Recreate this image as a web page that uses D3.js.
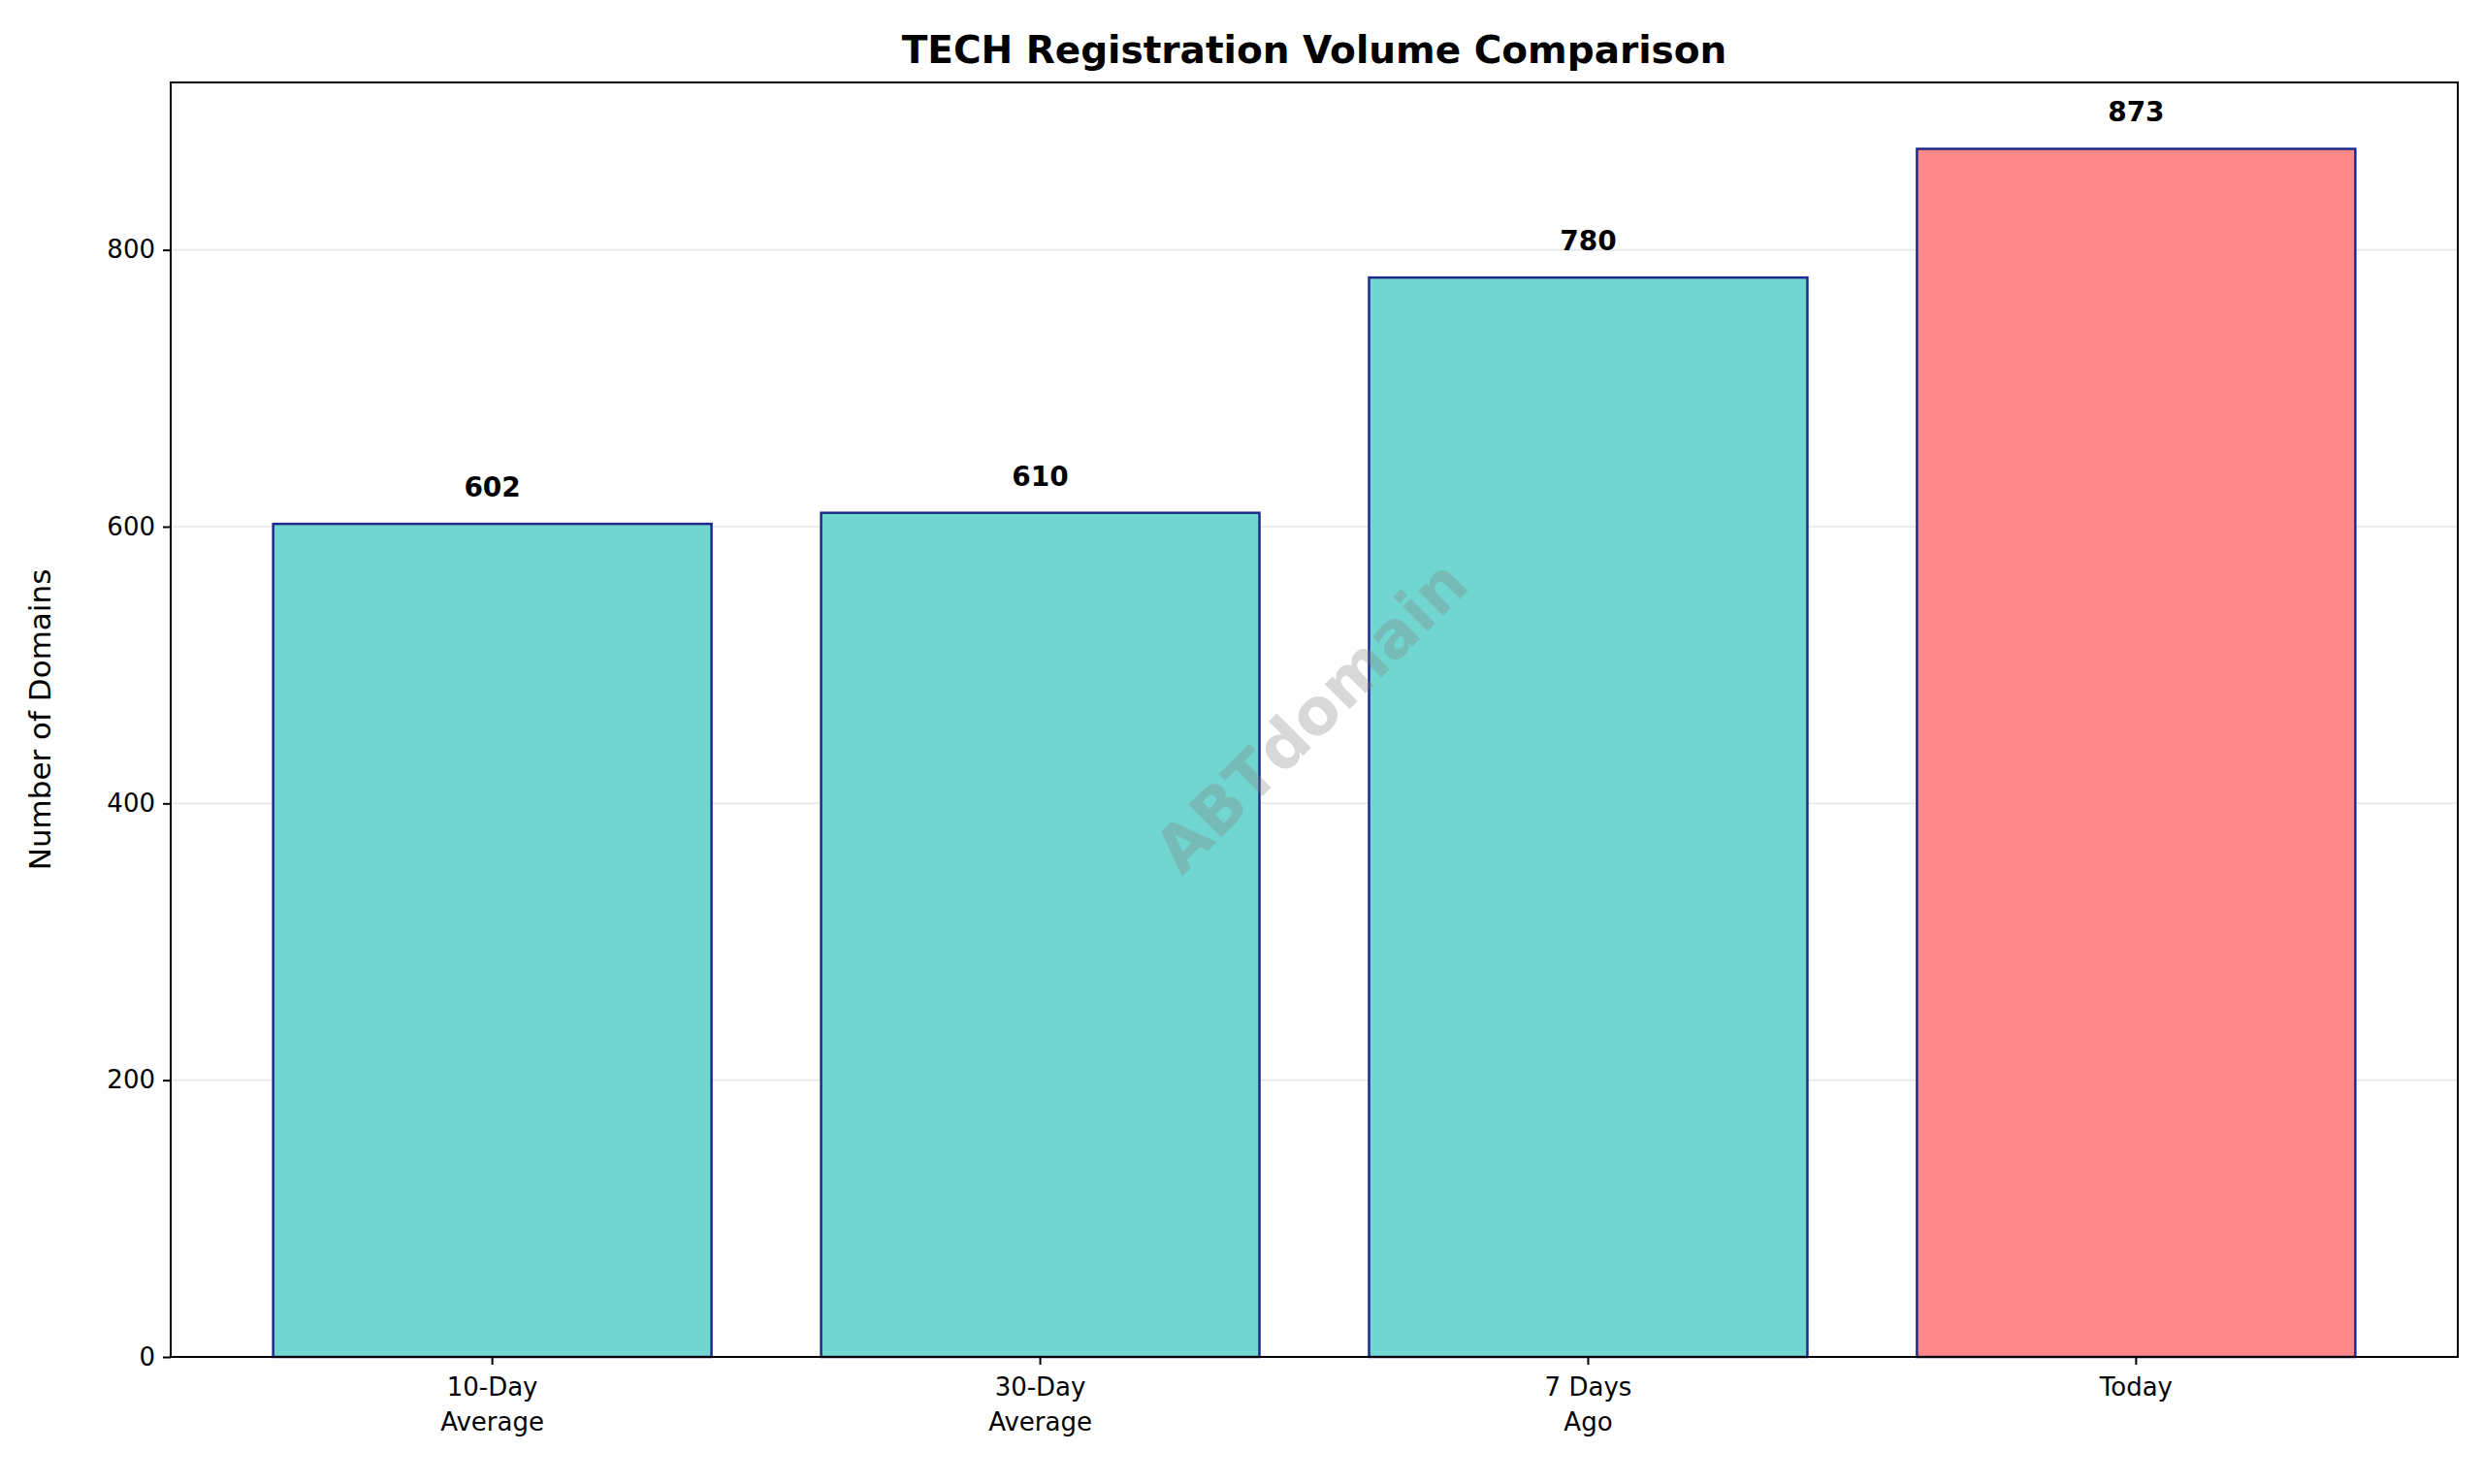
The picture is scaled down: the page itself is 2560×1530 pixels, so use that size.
<!DOCTYPE html>
<html><head><meta charset="utf-8">
<script src="https://cdn.jsdelivr.net/npm/d3@7"></script>
<style>body{margin:0;background:#fff}text{font-family:"DejaVu Sans",sans-serif}</style>
</head><body><svg id="chart" width="2560" height="1530"></svg>
<script>
const categories = ["10-Day\nAverage", "30-Day\nAverage", "7 Days\nAgo", "Today"];
const values = [602, 610, 780, 873];
const barColors = ["#72d6d0", "#72d6d0", "#72d6d0", "#ff8888"];
const yTicks = [0, 200, 400, 600, 800];

const svg = d3.select("#chart");
const m = {left: 176, right: 2534, top: 85, bottom: 1399};

// x in data units like matplotlib
const x = d3.scaleLinear().domain([-0.587, 3.587]).range([m.left, m.right]);
const y = d3.scaleLinear().domain([0, 921]).range([m.bottom, m.top]);
const bw = x(0.8) - x(0);

// grid
svg.append("g").selectAll("line").data(yTicks.slice(1)).join("line")
  .attr("x1", m.left).attr("x2", m.right)
  .attr("y1", d => y(d)).attr("y2", d => y(d))
  .attr("stroke", "#e6e6e6").attr("stroke-width", 1.6);

// bars
svg.append("g").selectAll("rect").data(values).join("rect")
  .attr("x", (d, i) => x(i) - bw / 2).attr("width", bw)
  .attr("y", d => y(d)).attr("height", d => y(0) - y(d))
  .attr("fill", (d, i) => barColors[i])
  .attr("stroke", "#1f2a8a").attr("stroke-width", 2.5);

// value labels
svg.append("g").selectAll("text").data(values).join("text")
  .attr("x", (d, i) => x(i)).attr("y", d => y(d) - 28)
  .attr("text-anchor", "middle").attr("font-size", 28).attr("font-weight", "bold")
  .text(d => d);

// watermark
svg.append("text")
  .attr("transform", `translate(${(m.left + m.right) / 2},${(m.top + m.bottom) / 2}) rotate(-45)`)
  .attr("text-anchor", "middle").attr("dominant-baseline", "middle")
  .attr("font-size", 66).attr("font-weight", "bold").attr("fill", "#808080").attr("opacity", 0.3)
  .text("ABTdomain");

// frame
svg.append("rect").attr("x", m.left).attr("y", m.top)
  .attr("width", m.right - m.left).attr("height", m.bottom - m.top)
  .attr("fill", "none").attr("stroke", "#000").attr("stroke-width", 2);

// y axis
const ya = svg.append("g").attr("transform", `translate(${m.left},0)`)
  .call(d3.axisLeft(y).tickValues(yTicks).tickSize(8).tickPadding(8));
ya.select(".domain").remove();
ya.selectAll("line").attr("stroke-width", 2);
ya.selectAll("text").attr("font-size", 26).attr("font-family", "DejaVu Sans");

// x ticks
const xg = svg.append("g").selectAll("g").data(categories).join("g")
  .attr("transform", (d, i) => `translate(${x(i)},${m.bottom})`);
xg.append("line").attr("y2", 8).attr("stroke", "#000").attr("stroke-width", 2);
xg.append("text").attr("text-anchor", "middle").attr("font-size", 26)
  .selectAll("tspan").data(d => d.split("\n")).join("tspan")
  .attr("x", 0).attr("y", (d, i) => 40 + i * 36).text(d => d);

// labels
svg.append("text").attr("transform", `translate(52,${(m.top + m.bottom) / 2}) rotate(-90)`)
  .attr("text-anchor", "middle").attr("font-size", 31).text("Number of Domains");
svg.append("text").attr("x", (m.left + m.right) / 2).attr("y", 65)
  .attr("text-anchor", "middle").attr("font-size", 39).attr("font-weight", "bold")
  .text("TECH Registration Volume Comparison");
</script></body></html>
